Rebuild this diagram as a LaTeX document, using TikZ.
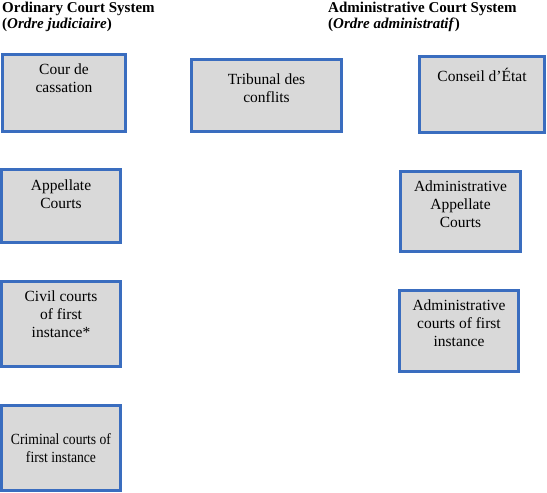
\documentclass[tikz,border=0pt]{standalone}
\usepackage{fontspec}
\setmainfont{Liberation Serif}
\definecolor{boxblue}{HTML}{3A6DBF}
\definecolor{boxgray}{HTML}{D9D9D9}
\begin{document}
\begin{tikzpicture}[x=1pt,y=1pt,
  court/.style={draw=boxblue, fill=boxgray, line width=3pt, inner sep=0pt},
  lbl/.style={align=center, inner sep=0pt, anchor=north, font=\fontsize{15.5}{18}\selectfont},
  head/.style={align=left, inner sep=0pt, anchor=north west, font=\fontsize{15}{16.5}\selectfont\bfseries}]
\useasboundingbox (0,0) rectangle (547,-493);
% headings
\node[head] (h1) at (2,-1.5) {Ordinary Court System\\(\textit{Ordre judiciaire})};
\node[head] (h2) at (328,-1.5) {Administrative Court System\\(\textit{Ordre administratif})};
% boxes
\node[court, minimum width=123, minimum height=77] (cc) at (64,-93) {};
\node[court, minimum width=150, minimum height=72] (tc) at (266.5,-95.5) {};
\node[court, minimum width=125, minimum height=76] (ce) at (482,-94.5) {};
\node[court, minimum width=119, minimum height=73] (ap) at (61,-206) {};
\node[court, minimum width=120, minimum height=80] (aap) at (460.5,-211.5) {};
\node[court, minimum width=119, minimum height=85] (cv) at (61,-324) {};
\node[court, minimum width=119, minimum height=81] (afi) at (459,-331) {};
\node[court, minimum width=119, minimum height=85] (cr) at (61,-448) {};
% labels
\node[lbl] (cct) at ([yshift=-11]cc.north) {Cour de\\cassation};
\node[lbl] (tct) at ([yshift=-16]tc.north) {Tribunal des\\conflits};
\node[lbl] (cet) at ([yshift=-13]ce.north) {Conseil d’État};
\node[lbl] (apt) at ([yshift=-12]ap.north) {Appellate\\Courts};
\node[lbl] (aapt) at ([yshift=-11]aap.north) {Administrative\\Appellate\\Courts};
\node[lbl] (cvt) at ([yshift=-11]cv.north) {Civil courts\\of first\\instance*};
\node[lbl] (afit) at ([yshift=-11]afi.north) {Administrative\\courts of first\\instance};
\node[lbl, transform shape, xscale=0.88] (crt) at ([yshift=-29.5]cr.north) {Criminal courts of\\first instance};
\end{tikzpicture}
\end{document}
